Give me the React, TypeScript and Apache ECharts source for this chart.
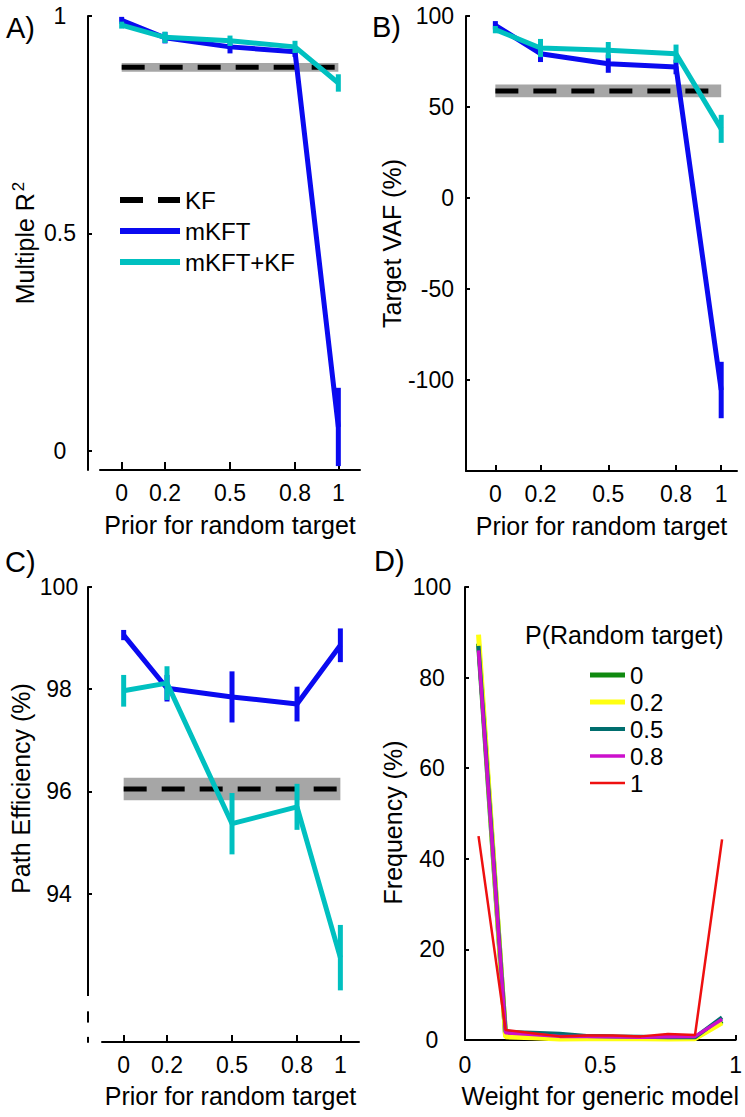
import React, { useEffect, useRef } from 'react';
import * as echarts from 'echarts';

const FONT = "'Liberation Sans', Arial, Helvetica, sans-serif";

// ---------- data ----------
const priors = [0, 0.2, 0.5, 0.8, 1];
const priorTicks = [0, 0.2, 0.5, 0.8, 1];

// A) Multiple R^2
const r2_mKFT = [0.99, 0.95, 0.929, 0.918, 0.055];
const r2_mKFT_err = [0.008, 0.013, 0.015, 0.012, 0.09];
const r2_mKFTKF = [0.979, 0.951, 0.943, 0.929, 0.846];
const r2_mKFTKF_err = [0.008, 0.013, 0.012, 0.014, 0.02];
const r2_KF = 0.882;
const r2_KF_sem = 0.01;
const r2Ticks = [0, 0.5, 1];

// B) Target VAF (%)
const vaf_mKFT = [94.9, 79.3, 73.8, 72.0, -105.5];
const vaf_mKFT_err = [2.3, 4.6, 5.0, 4.0, 15.5];
const vaf_mKFTKF = [92.5, 82.4, 81.2, 79.3, 38.0];
const vaf_mKFTKF_err = [2.0, 5.0, 4.5, 5.0, 7.7];
const vaf_KF = 58.8;
const vaf_KF_sem = 3.5;
const vafTicks = [-100, -50, 0, 50, 100];

// C) Path efficiency (%)
const pe_mKFT = [99.06, 98.02, 97.85, 97.71, 98.86];
const pe_mKFT_err = [0.1, 0.26, 0.5, 0.34, 0.33];
const pe_mKFTKF = [97.97, 98.12, 95.37, 95.7, 92.75];
const pe_mKFTKF_err = [0.31, 0.33, 0.6, 0.45, 0.64];
const pe_KF = 96.05;
const pe_KF_sem = 0.22;
const peTicks = [94, 96, 98, 100];
const peAxisGaps = [[92.0, 91.7], [91.48, 91.2]];

// D) Frequency (%) vs weight for generic model
const weightBins = [0.05, 0.15, 0.25, 0.35, 0.45, 0.55, 0.65, 0.75, 0.85, 0.95];
const weightTicks = [0, 0.5, 1];
const freqTicks = [0, 20, 40, 60, 80, 100];
const pRandomNames = ['0', '0.2', '0.5', '0.8', '1'];
const freq_p0 = [87.5, 1.0, 0.8, 0.6, 0.8, 0.6, 0.5, 0.5, 0.4, 4.2];
const freq_p02 = [89.5, 0.7, 0.5, 0.2, 0.3, 0.3, 0.3, 0.2, 0.3, 3.8];
const freq_p05 = [87.0, 1.8, 1.6, 1.4, 0.9, 0.8, 0.7, 0.6, 0.6, 5.0];
const freq_p08 = [86.0, 1.6, 1.2, 0.8, 0.8, 0.7, 0.6, 0.7, 0.8, 4.6];
const freq_p1 = [45.0, 2.2, 1.5, 0.8, 1.0, 1.0, 0.8, 1.3, 1.1, 44.3];

// ---------- styles ----------
const BLUE = '#0a0af0';
const CYAN = '#00c0c0';
const GRAY = '#a6a6a6';
const dColors = ['#108a10', '#ffff10', '#006e6e', '#cc10cc', '#ee1010'];
const dWidths = [5, 5, 4, 3.5, 2.5];

function lineSeries(name: string, idx: number, xs: number[], ys: number[], color: string, width: number, z: number, dash?: any) {
  return {
    type: 'line',
    name,
    xAxisIndex: idx,
    yAxisIndex: idx,
    data: xs.map((x, i) => [x, ys[i]]),
    symbol: 'none',
    showSymbol: false,
    lineStyle: { color, width, type: dash || 'solid', cap: 'butt' },
    itemStyle: { color },
    silent: true,
    z,
  };
}

function errSeries(idx: number, mean: number[], err: number[], color: string, z: number) {
  return {
    type: 'custom',
    name: 'err' + idx + color,
    xAxisIndex: idx,
    yAxisIndex: idx,
    data: priors.map((p, i) => [p, mean[i] - err[i], mean[i] + err[i]]),
    encode: { x: 0, y: [1, 2] },
    silent: true,
    z,
    renderItem: (params: any, api: any) => {
      const a = api.coord([api.value(0), api.value(1)]);
      const b = api.coord([api.value(0), api.value(2)]);
      return {
        type: 'line',
        shape: { x1: a[0], y1: a[1], x2: b[0], y2: b[1] },
        style: { stroke: color, lineWidth: 5 },
      };
    },
  };
}

function bandSeries(idx: number, mean: number, sem: number) {
  return {
    type: 'custom',
    name: 'band' + idx,
    xAxisIndex: idx,
    yAxisIndex: idx,
    data: [[0, mean - sem, 1, mean + sem]],
    encode: { x: [0, 2], y: [1, 3] },
    silent: true,
    z: 1,
    renderItem: (params: any, api: any) => {
      const a = api.coord([api.value(0), api.value(3)]);
      const b = api.coord([api.value(2), api.value(1)]);
      return {
        type: 'rect',
        shape: { x: a[0], y: a[1], width: b[0] - a[0], height: b[1] - a[1] },
        style: { fill: GRAY },
      };
    },
  };
}

function panelSeries(idx: number, kf: number, kfSem: number, m: number[], mErr: number[], mk: number[], mkErr: number[]) {
  return [
    bandSeries(idx, kf, kfSem),
    lineSeries('KF', idx, [0, 1], [kf, kf], '#000', 5, 2, [23, 15]),
    lineSeries('mKFT', idx, priors, m, BLUE, 5, 3),
    errSeries(idx, m, mErr, BLUE, 3),
    lineSeries('mKFT+KF', idx, priors, mk, CYAN, 5, 4),
    errSeries(idx, mk, mkErr, CYAN, 4),
  ];
}

const axisLine = { show: true, onZero: false, lineStyle: { color: '#000', width: 2 } };
const labelStyle = { color: '#000', fontSize: 23, fontFamily: FONT };
const nameStyle = { color: '#000', fontSize: 25, fontFamily: FONT };

function xAxis(idx: number, min: number, max: number, ticks: number[], tickLen: number, margin: number, gap: number, name: string) {
  return {
    type: 'value',
    gridIndex: idx,
    min,
    max,
    name,
    nameLocation: 'middle',
    nameGap: gap,
    nameTextStyle: nameStyle,
    axisLine,
    axisTick: { show: true, inside: true, length: tickLen, customValues: ticks, lineStyle: { color: '#000', width: 2 } },
    axisLabel: { show: true, customValues: ticks, margin, ...labelStyle },
    splitLine: { show: false },
  };
}

function yAxis(idx: number, min: number, max: number, ticks: number[], offset: number, align: string, margin: number, gap: number, name: string, extraName: any = {}) {
  return {
    type: 'value',
    gridIndex: idx,
    min,
    max,
    offset,
    name,
    nameLocation: 'middle',
    nameGap: gap,
    nameTextStyle: { ...nameStyle, ...extraName },
    axisLine,
    axisTick: { show: true, inside: true, length: 4, customValues: ticks, lineStyle: { color: '#000', width: 2 } },
    axisLabel: { show: true, customValues: ticks, align, margin, ...labelStyle },
    splitLine: { show: false },
  };
}

const legendText = { color: '#000', fontSize: 24, fontFamily: FONT, lineHeight: 24 };

export default function App() {
  const ref = useRef<HTMLDivElement>(null);

  useEffect(() => {
    if (!ref.current) return;
    const chart = echarts.init(ref.current, null, { renderer: 'svg' });

    const dSeries = [freq_p0, freq_p02, freq_p05, freq_p08, freq_p1].map((vals, k) =>
      lineSeries(pRandomNames[k], 3, weightBins, vals, dColors[k], dWidths[k], 2 + k)
    );

    const dLegends = pRandomNames.map((nm, k) => ({
      data: [{ name: nm, icon: 'path://M0,0H35V5H0Z' }],
      orient: 'vertical',
      left: 585,
      top: 658 + k * 27,
      itemWidth: 35,
      itemHeight: dWidths[k],
      symbolKeepAspect: false,
      selectedMode: false,
      textStyle: legendText,
    }));

    const option: any = {
      animation: false,
      backgroundColor: '#fff',
      textStyle: { fontFamily: FONT },
      grid: [
        { left: 100, top: 16, width: 260, height: 454 },
        { left: 466, top: 16, width: 271, height: 455 },
        { left: 102, top: 587, width: 257, height: 455 },
        { left: 465, top: 587, width: 272, height: 453 },
      ],
      xAxis: [
        xAxis(0, -0.1, 1.1, priorTicks, 8, 11, 42, 'Prior for random target'),
        xAxis(1, -0.13, 1.07, priorTicks, 6, 11, 42, 'Prior for random target'),
        xAxis(2, -0.1, 1.086, priorTicks, 7, 11, 41, 'Prior for random target'),
        xAxis(3, 0, 1, weightTicks, 5, 13, 43, 'Weight for generic model'),
      ],
      yAxis: [
        yAxis(0, -0.044, 1, r2Ticks, 12, 'center', 28, 42, 'Multiple R{sup|2}', {
          lineHeight: 30,
          rich: { sup: { fontSize: 17, fontFamily: FONT, color: '#000', verticalAlign: 'top', lineHeight: 14, padding: [0, 0, 0, 2] } },
        }),
        yAxis(1, -150, 100, vafTicks, 0, 'right', 12, 61, 'Target VAF (%)'),
        yAxis(2, 91.1, 100, peTicks, 14, 'center', 29, 55, 'Path Efficiency (%)', { padding: [0, 0, 0, 52] }),
        yAxis(3, 0, 100, freqTicks, 0, 'center', 33, 60, 'Frequency (%)', { padding: [0, 18, 0, 0] }),
      ],
      legend: [
        {
          data: [
            { name: 'KF', icon: 'path://M0,0H23V6H0ZM38,0H60V6H38Z' },
            { name: 'mKFT', icon: 'path://M0,0H60V6H0Z' },
            { name: 'mKFT+KF', icon: 'path://M0,0H60V6H0Z' },
          ],
          orient: 'vertical',
          left: 115,
          top: 183,
          itemWidth: 60,
          itemHeight: 6,
          itemGap: 7,
          symbolKeepAspect: false,
          selectedMode: false,
          textStyle: legendText,
        },
        ...dLegends,
      ],
      graphic: [
        { type: 'text', x: 6, y: 28, style: { text: 'A)', font: `29px ${FONT}`, fill: '#000', verticalAlign: 'middle' } },
        { type: 'text', x: 372, y: 27, style: { text: 'B)', font: `29px ${FONT}`, fill: '#000', verticalAlign: 'middle' } },
        { type: 'text', x: 5, y: 562, style: { text: 'C)', font: `29px ${FONT}`, fill: '#000', verticalAlign: 'middle' } },
        { type: 'text', x: 374, y: 561, style: { text: 'D)', font: `29px ${FONT}`, fill: '#000', verticalAlign: 'middle' } },
        { type: 'text', x: 525, y: 635, style: { text: 'P(Random target)', font: `25px ${FONT}`, fill: '#000', verticalAlign: 'middle' } },
      ],
      series: [
        ...panelSeries(0, r2_KF, r2_KF_sem, r2_mKFT, r2_mKFT_err, r2_mKFTKF, r2_mKFTKF_err),
        ...panelSeries(1, vaf_KF, vaf_KF_sem, vaf_mKFT, vaf_mKFT_err, vaf_mKFTKF, vaf_mKFTKF_err),
        ...panelSeries(2, pe_KF, pe_KF_sem, pe_mKFT, pe_mKFT_err, pe_mKFTKF, pe_mKFTKF_err),
        ...dSeries,
      ],
    };
    chart.setOption(option);

    // broken-axis look on panel C's y axis
    const axisX = 102 - 14;
    const gaps = peAxisGaps.map((g, i) => {
      const y1 = chart.convertToPixel({ yAxisIndex: 2 } as any, g[0]) as unknown as number;
      const y2 = chart.convertToPixel({ yAxisIndex: 2 } as any, g[1]) as unknown as number;
      return {
        type: 'rect',
        id: 'gap' + i,
        z: 100,
        shape: { x: axisX - 3, y: y1, width: 6, height: y2 - y1 },
        style: { fill: '#fff' },
      };
    });
    chart.setOption({ graphic: [...option.graphic, ...gaps] });

    return () => chart.dispose();
  }, []);

  return <div ref={ref} style={{ position: 'absolute', left: 0, top: 0, width: 745, height: 1117 }} />;
}
